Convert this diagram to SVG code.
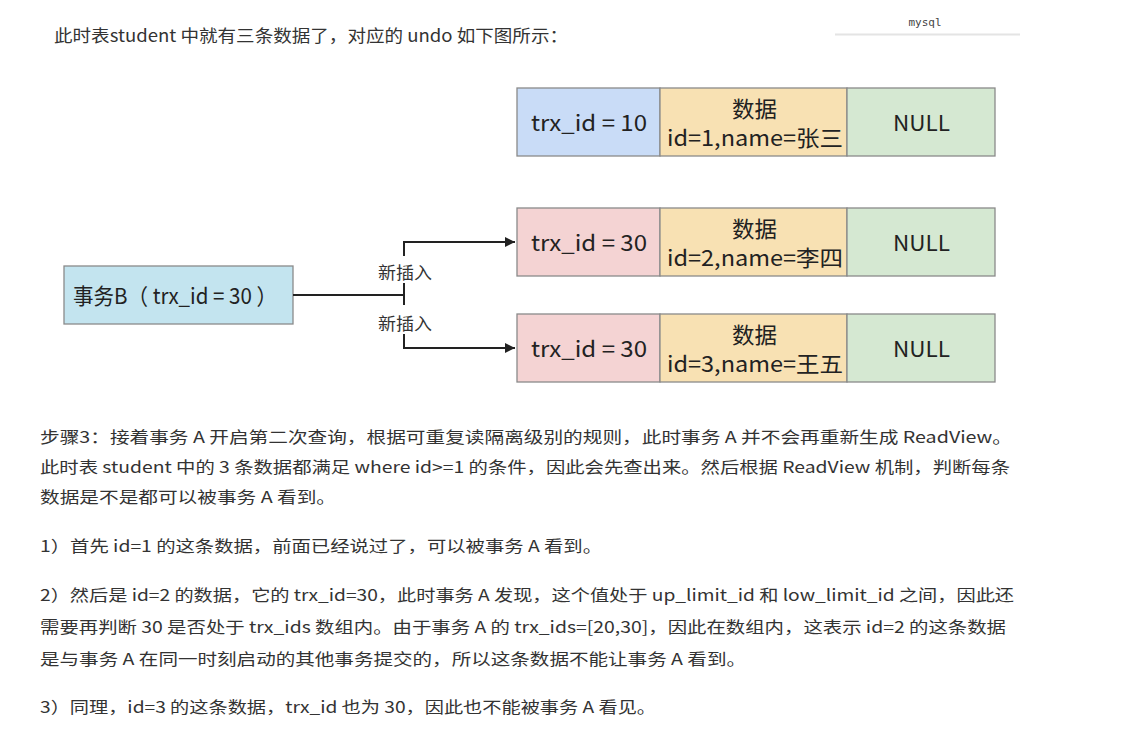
<svg xmlns="http://www.w3.org/2000/svg" width="1122" height="730" viewBox="0 0 1122 730">
  <style>
    .txt { font-family: "Noto Sans CJK SC", "Noto Sans", sans-serif; fill: #333; }
    .para { font-size: 16px; }
    .cell { stroke: #8a8a8a; stroke-width: 1.3; }
    .lbl { font-family: "Noto Sans CJK SC", "Noto Sans", sans-serif; font-size: 22px; fill: #222; text-anchor: middle; }
    .edge { fill: none; stroke: #222; stroke-width: 2; }
    .elbl { font-family: "Noto Sans CJK SC", sans-serif; font-size: 17px; fill: #333; text-anchor: middle; }
  </style>
  <defs>
    <marker id="arrow" viewBox="0 0 10 10" refX="10" refY="5" markerWidth="5" markerHeight="5" orient="auto" markerUnits="strokeWidth">
      <path d="M0,0 L10,5 L0,10 Z" fill="#222"/>
    </marker>
  </defs>
  <rect width="1122" height="730" fill="#ffffff"/>

  <!-- code block caption -->
  <g id="code-caption">
    <text x="925" y="26" font-family="'DejaVu Sans Mono', monospace" font-size="11" fill="#444" text-anchor="middle">mysql</text>
    <line x1="835" y1="34.5" x2="1020" y2="34.5" stroke="#e4e4e4" stroke-width="2"/>
  </g>

  <text id="heading" class="txt" x="54" y="42" font-size="17" textLength="514" lengthAdjust="spacingAndGlyphs">此时表student 中就有三条数据了，对应的 undo 如下图所示：</text>

  <!-- undo record 1 -->
  <g id="rec1">
    <rect class="cell" x="517" y="88" width="143" height="68" fill="#c9dcf7"/>
    <rect class="cell" x="660" y="88" width="187" height="68" fill="#f8e1b3"/>
    <rect class="cell" x="847" y="88" width="148" height="68" fill="#d5e8d2"/>
    <text class="lbl" x="589" y="131" textLength="116" lengthAdjust="spacingAndGlyphs">trx_id = 10</text>
    <text class="lbl" x="754.5" y="117" textLength="45" lengthAdjust="spacingAndGlyphs">数据</text>
    <text class="lbl" x="755" y="146" textLength="176" lengthAdjust="spacingAndGlyphs">id=1,name=张三</text>
    <text class="lbl" x="921.5" y="131" textLength="57" lengthAdjust="spacingAndGlyphs">NULL</text>
  </g>

  <!-- undo record 2 -->
  <g id="rec2">
    <rect class="cell" x="517" y="208" width="143" height="68" fill="#f4d3d3"/>
    <rect class="cell" x="660" y="208" width="187" height="68" fill="#f8e1b3"/>
    <rect class="cell" x="847" y="208" width="148" height="68" fill="#d5e8d2"/>
    <text class="lbl" x="589" y="251" textLength="116" lengthAdjust="spacingAndGlyphs">trx_id = 30</text>
    <text class="lbl" x="754.5" y="237" textLength="45" lengthAdjust="spacingAndGlyphs">数据</text>
    <text class="lbl" x="755" y="266" textLength="176" lengthAdjust="spacingAndGlyphs">id=2,name=李四</text>
    <text class="lbl" x="921.5" y="251" textLength="57" lengthAdjust="spacingAndGlyphs">NULL</text>
  </g>

  <!-- undo record 3 -->
  <g id="rec3">
    <rect class="cell" x="517" y="314" width="143" height="68" fill="#f4d3d3"/>
    <rect class="cell" x="660" y="314" width="187" height="68" fill="#f8e1b3"/>
    <rect class="cell" x="847" y="314" width="148" height="68" fill="#d5e8d2"/>
    <text class="lbl" x="589" y="357" textLength="116" lengthAdjust="spacingAndGlyphs">trx_id = 30</text>
    <text class="lbl" x="754.5" y="343" textLength="45" lengthAdjust="spacingAndGlyphs">数据</text>
    <text class="lbl" x="755" y="372" textLength="176" lengthAdjust="spacingAndGlyphs">id=3,name=王五</text>
    <text class="lbl" x="921.5" y="357" textLength="57" lengthAdjust="spacingAndGlyphs">NULL</text>
  </g>

  <!-- transaction B -->
  <g id="trxB">
    <rect class="cell" x="64" y="266" width="229" height="58" fill="#c3e4ef"/>
    <text class="lbl" x="175" y="304" textLength="204" lengthAdjust="spacingAndGlyphs">事务B（ trx_id = 30 ）</text>
  </g>

  <!-- connectors -->
  <g id="edges">
    <path class="edge" d="M293,295 H404"/>
    <path class="edge" d="M404,305 V283"/>
    <path class="edge" d="M404,256 V242 H515" marker-end="url(#arrow)"/>
    <path class="edge" d="M404,334 V348 H515" marker-end="url(#arrow)"/>
    <text class="elbl" x="405" y="279" textLength="54" lengthAdjust="spacingAndGlyphs">新插入</text>
    <text class="elbl" x="405" y="330" textLength="54" lengthAdjust="spacingAndGlyphs">新插入</text>
  </g>

  <!-- explanation text -->
  <g id="notes" class="txt para">
    <text x="40" y="443" textLength="972" lengthAdjust="spacingAndGlyphs">步骤3：接着事务 A 开启第二次查询，根据可重复读隔离级别的规则，此时事务 A 并不会再重新生成 ReadView。</text>
    <text x="40" y="473" textLength="970" lengthAdjust="spacingAndGlyphs">此时表 student 中的 3 条数据都满足 where id&gt;=1 的条件，因此会先查出来。然后根据 ReadView 机制，判断每条</text>
    <text x="40" y="503" textLength="296" lengthAdjust="spacingAndGlyphs">数据是不是都可以被事务 A 看到。</text>
    <text x="40" y="552" textLength="562" lengthAdjust="spacingAndGlyphs">1）首先 id=1 的这条数据，前面已经说过了，可以被事务 A 看到。</text>
    <text x="40" y="601" textLength="974" lengthAdjust="spacingAndGlyphs">2）然后是 id=2 的数据，它的 trx_id=30，此时事务 A 发现，这个值处于 up_limit_id 和 low_limit_id 之间，因此还</text>
    <text x="40" y="633" textLength="966" lengthAdjust="spacingAndGlyphs">需要再判断 30 是否处于 trx_ids 数组内。由于事务 A 的 trx_ids=[20,30]，因此在数组内，这表示 id=2 的这条数据</text>
    <text x="40" y="665" textLength="706" lengthAdjust="spacingAndGlyphs">是与事务 A 在同一时刻启动的其他事务提交的，所以这条数据不能让事务 A 看到。</text>
    <text x="40" y="713" textLength="616" lengthAdjust="spacingAndGlyphs">3）同理，id=3 的这条数据，trx_id 也为 30，因此也不能被事务 A 看见。</text>
  </g>
</svg>
